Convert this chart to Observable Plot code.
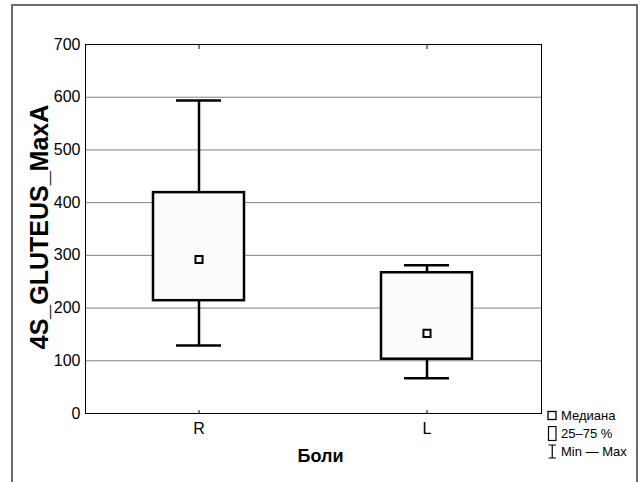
<!DOCTYPE html>
<html><head><meta charset="utf-8">
<script src="https://cdn.jsdelivr.net/npm/d3@7"></script>
<script src="https://cdn.jsdelivr.net/npm/@observablehq/plot@0.6"></script>
<style>
body{margin:0;background:#fff;font-family:"Liberation Sans",Arial,sans-serif;}
#wrap{position:relative;width:642px;height:482px;overflow:hidden;background:#fff;}
#border{position:absolute;left:11px;top:4px;width:627px;height:540px;border:2px solid #6b6b6b;box-sizing:border-box;pointer-events:none;}
#chart{position:absolute;left:0;top:0;}
#legend{position:absolute;left:546px;top:408px;font-size:13px;line-height:13px;color:#000;}
#legend .row{display:flex;align-items:center;height:15px;margin-bottom:3px;}
#legend svg{width:12px;flex:none;margin-right:3px;}
</style>
</head><body>
<div id="wrap"><div id="chart"></div><div id="border"></div><div id="legend"></div></div>
<script>
const categories = ["R", "L"];
const minV   = [129, 67];
const q1V    = [214, 103];
const medV   = [292, 152];
const q3V    = [419, 267];
const maxV   = [594, 281];
const yTicks = [0, 100, 200, 300, 400, 500, 600, 700];
const xTitle = "Боли";
const yTitle = "4S_GLUTEUS_MaxA";
const legendLabels = ["Медиана", "25–75 %", "Min — Max"];

const data = categories.map((c, i) => ({cat: c, min: minV[i], q1: q1V[i], med: medV[i], q3: q3V[i], max: maxV[i]}));

const plot = Plot.plot({
  width: 642,
  height: 482,
  marginLeft: 85,
  marginRight: 101,
  marginTop: 44,
  marginBottom: 69,
  style: {fontFamily: "'Liberation Sans', Arial, sans-serif", background: "transparent", color: "#000"},
  x: {domain: categories, paddingInner: 0.6, paddingOuter: 0.296, axis: null},
  y: {domain: [0, 700], axis: null},
  marks: [
    Plot.gridY(yTicks, {stroke: "#808080", strokeOpacity: 1, strokeWidth: 1}),
    Plot.ruleX(data, {x: "cat", y1: "min", y2: "q1", stroke: "#000", strokeWidth: 2.5}),
    Plot.ruleX(data, {x: "cat", y1: "q3", y2: "max", stroke: "#000", strokeWidth: 2.5}),
    Plot.tickY(data, {x: "cat", y: "min", stroke: "#000", strokeWidth: 2.5, insetLeft: 23, insetRight: 23}),
    Plot.tickY(data, {x: "cat", y: "max", stroke: "#000", strokeWidth: 2.5, insetLeft: 23, insetRight: 23}),
    Plot.barY(data, {x: "cat", y1: "q1", y2: "q3", fill: "#fbfbfb", stroke: "#000", strokeWidth: 2.5}),
    Plot.dot(data, {x: "cat", y: "med", symbol: "square", r: 4, fill: "#fff", stroke: "#000", strokeWidth: 2}),
    Plot.frame({stroke: "#000", strokeWidth: 1}),
    Plot.axisY(yTicks, {tickSize: 0, tickPadding: 5, fontSize: 16, label: null}),
    Plot.axisX({anchor: "bottom", tickSize: -3, tickPadding: 12, fontSize: 16, label: null}),
    Plot.axisX({anchor: "top", tickSize: -4, text: null, label: null}),
    Plot.text([xTitle], {text: d => d, frameAnchor: "bottom", dy: 48, dx: 7, fontSize: 18, fontWeight: "bold"}),
    Plot.text([yTitle], {text: d => d, frameAnchor: "left", textAnchor: "middle", rotate: -90, dx: -46, dy: -2, fontSize: 25, fontWeight: "bold"})
  ]
});
document.getElementById("chart").appendChild(plot);

// legend
const leg = document.getElementById("legend");
const icons = [
  '<svg height="15" viewBox="0 0 12 15"><rect x="2" y="3.5" width="8" height="8" fill="#fff" stroke="#000" stroke-width="1.3"/></svg>',
  '<svg height="15" viewBox="0 0 12 15"><rect x="2.5" y="0.5" width="7.5" height="14" fill="#fff" stroke="#000" stroke-width="1.2"/></svg>',
  '<svg height="15" viewBox="0 0 12 15"><path d="M2.5 1H10M6.25 1V14M2.5 14H10" fill="none" stroke="#000" stroke-width="1.2"/></svg>'
];
legendLabels.forEach((t, i) => {
  const row = document.createElement("div");
  row.className = "row";
  row.innerHTML = icons[i] + '<span>' + t + '</span>';
  leg.appendChild(row);
});
</script>
</body></html>
